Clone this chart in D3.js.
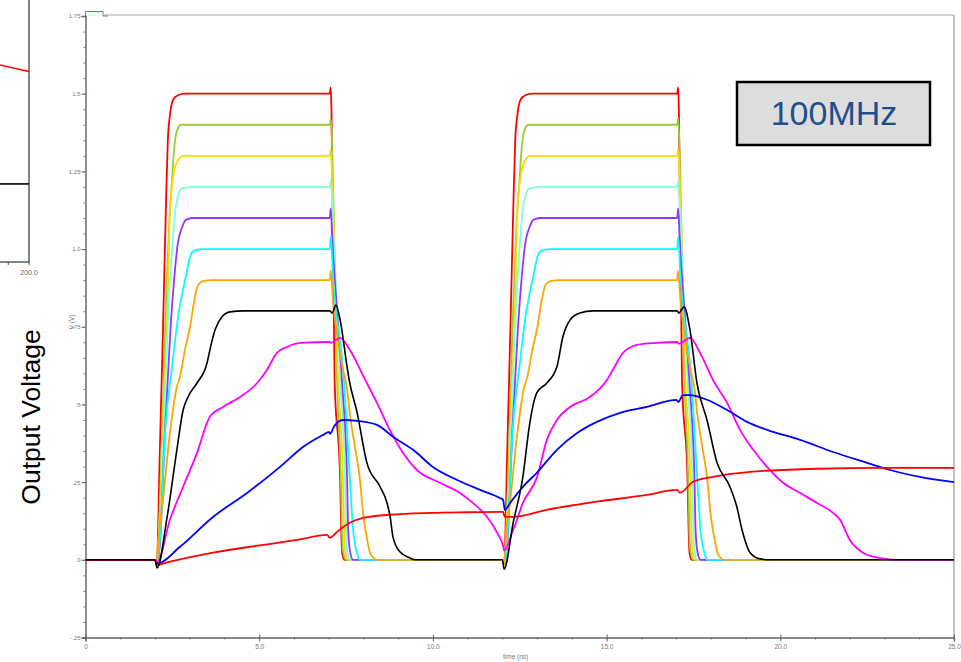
<!DOCTYPE html>
<html><head><meta charset="utf-8">
<script src="https://cdn.jsdelivr.net/npm/d3@7"></script>
<style>html,body{margin:0;padding:0;background:#fff;} svg{display:block;font-family:"Liberation Sans",Arial,sans-serif;}</style>
</head><body><svg id="c" width="961" height="662"></svg>
<script>
// ---------- tick data ----------
const xTickValues = [0, 5, 10, 15, 20, 25];
const xTickLabels = ["0", "5.0", "10.0", "15.0", "20.0", "25.0"];
const yTickValues = [-0.25, 0, 0.25, 0.5, 0.75, 1.0, 1.25, 1.5, 1.75];
const yTickLabels = ["-.25", "0", ".25", ".5", ".75", "1.0", "1.25", "1.5", "1.75"];

// ---------- series data: [time (ns), V] ----------
const red15 = [[0,0],[2.0,0],[2.05,-0.015],[2.14,0.35],[2.23,0.74],[2.32,1.16],[2.37,1.35],[2.43,1.43],[2.52,1.48],[2.66,1.495],[2.86,1.5],[7.03,1.5],[7.06,1.52],[7.08,1.45],[7.17,0.58],[7.33,0.26],[7.36,0.1],[7.39,0.02],[7.45,0],
  [12.0,0],[12.05,-0.015],[12.14,0.35],[12.23,0.74],[12.32,1.16],[12.37,1.35],[12.43,1.43],[12.52,1.48],[12.66,1.495],[12.86,1.5],[17.03,1.5],[17.06,1.52],[17.08,1.45],[17.17,0.58],[17.33,0.26],[17.36,0.1],[17.39,0.02],[17.45,0],[25,0]];
const green14 = [[0,0],[2.0,0],[2.06,-0.015],[2.09,0.03],[2.2,0.39],[2.32,0.84],[2.4,1.06],[2.49,1.22],[2.55,1.32],[2.63,1.38],[2.75,1.4],[7.03,1.4],[7.06,1.42],[7.09,1.36],[7.24,0.58],[7.35,0.26],[7.38,0.1],[7.41,0.03],[7.5,0],
  [12.0,0],[12.06,-0.015],[12.09,0.03],[12.2,0.39],[12.32,0.84],[12.4,1.06],[12.49,1.22],[12.55,1.32],[12.63,1.38],[12.75,1.4],[17.03,1.4],[17.06,1.42],[17.09,1.36],[17.24,0.58],[17.35,0.26],[17.38,0.1],[17.41,0.03],[17.5,0],[25,0]];
const yellow13 = [[0,0],[2.0,0],[2.06,-0.015],[2.09,0.03],[2.23,0.45],[2.37,0.84],[2.43,1.13],[2.52,1.23],[2.63,1.28],[2.81,1.3],[7.03,1.3],[7.06,1.32],[7.09,1.26],[7.27,0.58],[7.41,0.26],[7.44,0.1],[7.47,0.03],[7.56,0],
  [12.0,0],[12.06,-0.015],[12.09,0.03],[12.23,0.45],[12.37,0.84],[12.43,1.13],[12.52,1.23],[12.63,1.28],[12.81,1.3],[17.03,1.3],[17.06,1.32],[17.09,1.26],[17.27,0.58],[17.41,0.26],[17.44,0.1],[17.47,0.03],[17.56,0],[25,0]];
const aqua12 = [[0,0],[2.0,0],[2.06,-0.015],[2.12,0.03],[2.26,0.45],[2.4,0.84],[2.52,1.04],[2.58,1.12],[2.66,1.17],[2.78,1.195],[3.07,1.2],[7.03,1.2],[7.06,1.22],[7.1,1.14],[7.33,0.58],[7.47,0.26],[7.5,0.1],[7.53,0.03],[7.61,0],
  [12.0,0],[12.06,-0.015],[12.12,0.03],[12.26,0.45],[12.4,0.84],[12.52,1.04],[12.58,1.12],[12.66,1.17],[12.78,1.195],[13.07,1.2],[17.03,1.2],[17.06,1.22],[17.1,1.14],[17.33,0.58],[17.47,0.26],[17.5,0.1],[17.53,0.03],[17.61,0],[25,0]];
const purple11 = [[0,0],[2.0,0],[2.06,-0.015],[2.14,0.05],[2.29,0.42],[2.45,0.75],[2.55,0.9],[2.66,1.02],[2.78,1.07],[2.89,1.094],[3.09,1.1],[7.03,1.1],[7.06,1.13],[7.1,1.04],[7.38,0.58],[7.53,0.26],[7.56,0.1],[7.61,0.03],[7.7,0],
  [12.0,0],[12.06,-0.015],[12.14,0.05],[12.29,0.42],[12.45,0.75],[12.55,0.9],[12.66,1.02],[12.78,1.07],[12.89,1.094],[13.09,1.1],[17.03,1.1],[17.06,1.13],[17.1,1.04],[17.38,0.58],[17.53,0.26],[17.56,0.1],[17.61,0.03],[17.7,0],[25,0]];
const cyan10 = [[0,0],[2.0,0],[2.06,-0.015],[2.14,0.06],[2.29,0.41],[2.49,0.62],[2.69,0.8],[2.81,0.87],[2.92,0.93],[3.01,0.975],[3.12,0.994],[3.35,1.0],[7.03,1.0],[7.06,1.04],[7.12,0.92],[7.44,0.58],[7.61,0.26],[7.7,0.1],[7.82,0.02],[7.9,0],
  [12.0,0],[12.06,-0.015],[12.14,0.06],[12.29,0.41],[12.49,0.62],[12.69,0.8],[12.81,0.87],[12.92,0.93],[13.01,0.975],[13.12,0.994],[13.35,1.0],[17.03,1.0],[17.06,1.04],[17.12,0.92],[17.44,0.58],[17.61,0.26],[17.7,0.1],[17.82,0.02],[17.9,0],[25,0]];
const orange09 = [[0,0],[2.0,0],[2.06,-0.015],[2.09,0.048],[2.23,0.193],[2.43,0.408],[2.63,0.556],[2.72,0.589],[2.86,0.675],[3.01,0.75],[3.15,0.846],[3.24,0.884],[3.38,0.897],[3.64,0.9],[7.03,0.9],[7.06,0.93],[7.12,0.84],[7.25,0.72],[7.4,0.62],[7.53,0.55],[7.61,0.47],[7.76,0.36],[7.9,0.257],[7.99,0.15],[8.1,0.07],[8.2,0.02],[8.39,0],
  [12.0,0],[12.06,-0.015],[12.09,0.048],[12.23,0.193],[12.43,0.408],[12.63,0.556],[12.72,0.589],[12.86,0.675],[13.01,0.75],[13.15,0.846],[13.24,0.884],[13.38,0.897],[13.64,0.9],[17.03,0.9],[17.06,0.93],[17.12,0.84],[17.25,0.72],[17.4,0.62],[17.53,0.55],[17.61,0.47],[17.76,0.36],[17.9,0.257],[17.99,0.15],[18.1,0.07],[18.2,0.02],[18.39,0],[25,0]];
const black08 = [[0,0],[2.0,0],[2.06,-0.026],[2.35,0.138],[2.63,0.354],[2.81,0.482],[2.95,0.524],[3.21,0.569],[3.5,0.634],[3.58,0.675],[3.73,0.74],[3.93,0.782],[4.16,0.798],[4.53,0.801],[7.03,0.801],[7.1,0.794],[7.21,0.82],[7.33,0.772],[7.53,0.621],[7.59,0.579],[7.82,0.473],[8.1,0.312],[8.48,0.235],[8.68,0.183],[8.77,0.138],[8.85,0.074],[9.05,0.026],[9.34,0.006],[9.48,0],
  [12.0,0],[12.05,-0.03],[12.31,0.119],[12.59,0.267],[12.79,0.441],[12.99,0.537],[13.28,0.569],[13.57,0.621],[13.74,0.717],[13.95,0.772],[14.23,0.794],[14.61,0.801],[17.03,0.801],[17.08,0.794],[17.23,0.814],[17.4,0.74],[17.6,0.569],[17.89,0.45],[18.18,0.312],[18.55,0.235],[18.75,0.17],[18.9,0.096],[19.13,0.023],[19.42,0.003],[19.7,0],[25,0]];
const magenta07 = [[0,0],[2.0,0],[2.06,-0.01],[2.43,0.129],[2.81,0.235],[3.21,0.344],[3.58,0.46],[3.96,0.492],[4.45,0.524],[4.94,0.569],[5.22,0.611],[5.51,0.666],[5.8,0.685],[6.17,0.698],[7.03,0.701],[7.07,0.698],[7.33,0.714],[7.61,0.675],[8.05,0.579],[8.39,0.505],[8.76,0.418],[9.14,0.344],[9.54,0.289],[10.2,0.248],[10.78,0.215],[11.15,0.183],[11.56,0.138],[11.85,0.087],[12.02,0.045],[12.05,0.03],
  [12.31,0.096],[12.59,0.183],[13.0,0.267],[13.28,0.386],[13.57,0.45],[13.95,0.492],[14.52,0.524],[15.01,0.579],[15.18,0.611],[15.47,0.666],[15.88,0.692],[16.45,0.698],[17.03,0.701],[17.08,0.695],[17.4,0.714],[17.69,0.666],[18.06,0.579],[18.47,0.505],[18.84,0.418],[19.22,0.354],[19.62,0.299],[20.08,0.248],[20.57,0.215],[21.06,0.183],[21.52,0.151],[21.72,0.129],[22.0,0.064],[22.38,0.023],[22.67,0.01],[22.96,0.004],[23.45,0],[25,0]];
const blue = [[0,0],[2.0,0],[2.06,-0.012],[2.72,0.042],[3.67,0.138],[4.65,0.215],[5.6,0.299],[6.26,0.363],[6.84,0.402],[7.01,0.412],[7.04,0.405],[7.15,0.428],[7.41,0.45],[7.82,0.447],[8.39,0.434],[8.85,0.396],[9.43,0.354],[10.0,0.299],[10.7,0.257],[11.36,0.225],[11.93,0.199],[12.02,0.193],[12.07,0.16],[12.22,0.183],
  [12.59,0.235],[12.99,0.28],[13.57,0.354],[14.15,0.408],[14.72,0.444],[15.39,0.473],[16.16,0.492],[17.01,0.515],[17.06,0.508],[17.2,0.53],[17.4,0.53],[17.89,0.515],[18.47,0.482],[19.04,0.444],[19.62,0.418],[20.57,0.386],[21.52,0.347],[22.5,0.312],[23.16,0.289],[24.02,0.267],[25,0.25]];
const redLow = [[0,0],[2.0,0],[2.06,-0.016],[2.43,-0.006],[3.67,0.023],[5.11,0.048],[6.09,0.064],[6.95,0.08],[7.04,0.071],[7.24,0.09],[7.61,0.119],[7.99,0.135],[8.76,0.145],[9.92,0.151],[11.0,0.153],[11.93,0.154],[12.02,0.154],[12.07,0.138],[12.31,0.138],
  [13.28,0.161],[14.72,0.187],[16.16,0.209],[17.03,0.225],[17.11,0.216],[17.49,0.251],[18.06,0.267],[19.13,0.283],[21.06,0.293],[22.96,0.296],[25,0.296]];

const seriesList = [red15, green14, yellow13, aqua12, purple11, cyan10, orange09, magenta07, blue, redLow, black08];
const seriesColors = ["#ff0000", "#99cc33", "#ffd700", "#7fffd4", "#9933ff", "#00ffff", "#ffa500", "#ff00ff", "#0000ff", "#ff0000", "#000000"];

// left fragment of neighbouring chart
const fragXTicks = [190, 200];
const fragRed = [[186, 0.752], [200, 0.727]];
const fragBlack = [[186, 0.298], [200, 0.298]];

const svg = d3.select("#c");
const x = d3.scaleLinear().domain([0, 25]).range([85.5, 954]);
const y = d3.scaleLinear().domain([-0.25, 1.75]).range([637.5, 16]);

// ---------- left fragment ----------
const fx = d3.scaleLinear().domain([186, 200]).range([0, 29]);
const fy = d3.scaleLinear().domain([0, 1]).range([262, 0]);
const frag = svg.append("g");
frag.append("line").attr("x1", fx(200)).attr("x2", fx(200)).attr("y1", 0).attr("y2", 262).attr("stroke", "#333").attr("stroke-width", 1.2);
frag.append("line").attr("x1", 0).attr("x2", fx(200)).attr("y1", 262).attr("y2", 262).attr("stroke", "#333").attr("stroke-width", 1.2);
fragXTicks.forEach(t => frag.append("line").attr("x1", fx(t)).attr("x2", fx(t)).attr("y1", 262).attr("y2", 265).attr("stroke", "#555"));
frag.append("text").attr("x", fx(200)).attr("y", 275).attr("text-anchor", "middle").attr("font-size", 7).attr("fill", "#666").text("200.0");
const fl = d3.line().x(d => fx(d[0])).y(d => fy(d[1]));
frag.append("path").attr("d", fl(fragBlack)).attr("fill", "none").attr("stroke", "#000").attr("stroke-width", 1.6);
frag.append("path").attr("d", fl(fragRed)).attr("fill", "none").attr("stroke", "#ff0000").attr("stroke-width", 1.6);

svg.append("text").attr("transform", "translate(40,417) rotate(-90)").attr("text-anchor", "middle")
  .attr("font-size", 26.5).attr("fill", "#000").text("Output Voltage");

// ---------- frame ----------
svg.append("line").attr("x1", 104).attr("x2", 954).attr("y1", 15).attr("y2", 15).attr("stroke", "#aaa").attr("stroke-width", 1);
svg.append("line").attr("x1", 954).attr("x2", 954).attr("y1", 15).attr("y2", 640).attr("stroke", "#999").attr("stroke-width", 1.2);
svg.append("path").attr("d", "M85.5,16 V11.5 H103 V16 H108").attr("fill", "none").attr("stroke", "#777").attr("stroke-width", 1);
svg.append("text").attr("x", 88).attr("y", 16).attr("font-size", 5.5).attr("fill", "#7fffd4").text("OUT");

// minor ticks
const xMinor = d3.axisBottom(x).tickValues(d3.range(0, 26)).tickSize(2).tickFormat("");
const gxm = svg.append("g").attr("transform", "translate(0,637.5)").call(xMinor);
gxm.select(".domain").remove();
gxm.selectAll("line").attr("stroke", "#777");
const yMinor = d3.axisLeft(y).tickValues(d3.range(-25, 176, 5).map(d => d / 100)).tickSize(2).tickFormat("");
const gym = svg.append("g").attr("transform", "translate(85.5,0)").call(yMinor);
gym.select(".domain").remove();
gym.selectAll("line").attr("stroke", "#777");

const xAxis = d3.axisBottom(x).tickValues(xTickValues).tickFormat((d, i) => xTickLabels[i]).tickSize(4).tickPadding(3);
const gx = svg.append("g").attr("transform", "translate(0,637.5)").call(xAxis);
gx.select(".domain").attr("stroke", "#666").attr("stroke-width", 1.3);
gx.selectAll(".tick line").attr("stroke", "#666").attr("y1", -3);
gx.selectAll("text").attr("font-size", 6.5).attr("fill", "#777").attr("font-family", "Liberation Sans, Arial, sans-serif");

const yAxis = d3.axisLeft(y).tickValues(yTickValues).tickFormat((d, i) => yTickLabels[i]).tickSize(4).tickPadding(1);
const gy = svg.append("g").attr("transform", "translate(85.5,0)").call(yAxis);
gy.select(".domain").attr("stroke", "#555").attr("stroke-width", 1.3);
gy.selectAll(".tick line").attr("stroke", "#666");
gy.selectAll("text").attr("font-size", 6).attr("fill", "#777").attr("font-family", "Liberation Sans, Arial, sans-serif");

svg.append("text").attr("x", 503).attr("y", 659).attr("font-size", 6.5).attr("fill", "#777").text("time (ns)");
svg.append("text").attr("transform", "translate(74,322) rotate(-90)").attr("text-anchor", "middle").attr("font-size", 6.5).attr("fill", "#777").text("V (V)");

// ---------- traces ----------
const line = d3.line().x(d => x(d[0])).y(d => y(d[1])).curve(d3.curveMonotoneX);
const plot = svg.append("g");
seriesList.forEach((s, i) => {
  plot.append("path").attr("d", line(s)).attr("fill", "none")
    .attr("stroke", seriesColors[i]).attr("stroke-width", i === seriesList.length - 1 ? 1.6 : 1.8)
    .attr("stroke-linejoin", "round");
});

// ---------- frequency box ----------
svg.append("rect").attr("x", 737).attr("y", 82).attr("width", 193).attr("height", 63)
  .attr("fill", "#dddddd").attr("stroke", "#000").attr("stroke-width", 2.5);
svg.append("text").attr("x", 834).attr("y", 125).attr("text-anchor", "middle").attr("font-size", 34)
  .attr("fill", "#1f4e8c").text("100MHz");
</script></body></html>
